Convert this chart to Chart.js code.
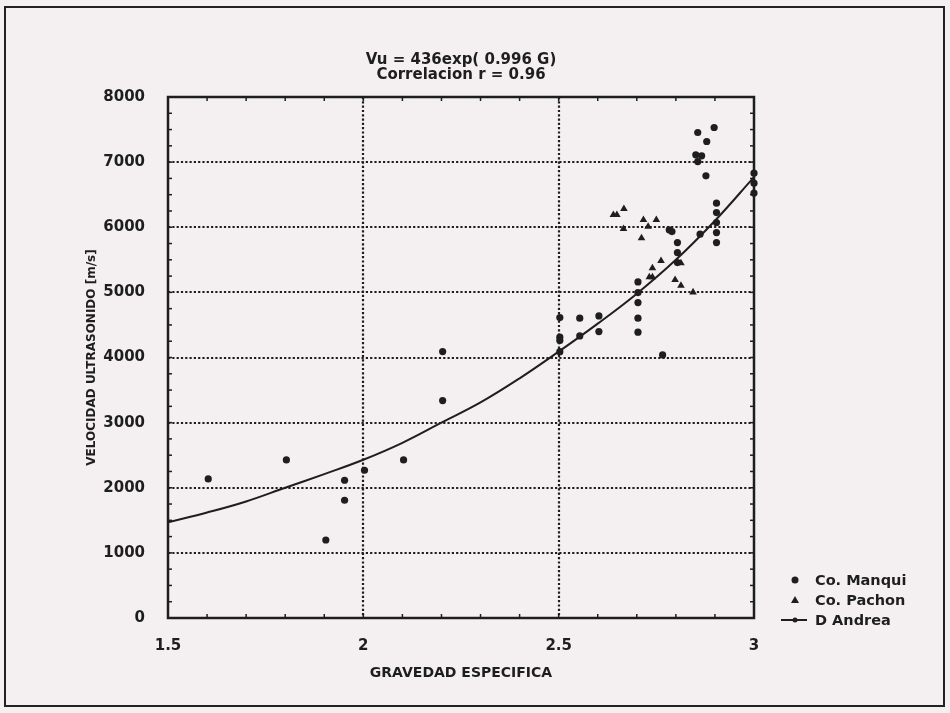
<!DOCTYPE html>
<html>
<head>
<meta charset="utf-8">
<script src="https://cdn.jsdelivr.net/npm/chart.js@4.4.1/dist/chart.umd.min.js"></script>
<style>
    html, body { margin: 0; padding: 0; background: #f4f0f1; }
    #wrap { position: relative; width: 950px; height: 713px; overflow: hidden; }
    #frame { position: absolute; left: 4px; top: 6px; width: 941px; height: 701px; border: 2px solid #222; box-sizing: border-box; }
    #grafico { position: absolute; left: 0; top: 0; }
    .txt { position: absolute; font-family: "DejaVu Sans", sans-serif; font-weight: bold; color: #1e1e1e; white-space: nowrap; }
    #titulo { left: 311px; top: 52px; width: 300px; text-align: center; font-size: 15px; line-height: 15px; }
    .fila { position: absolute; left: 780px; height: 20px; font-size: 14.5px; line-height: 20px; }
    .fila span.lbl { position: absolute; left: 35px; top: 0; }
    .marca { position: absolute; left: 0; top: 0; width: 28px; height: 20px; }
</style>
</head>
<body>
<div id="wrap">
    <div id="frame"></div>
    <canvas id="grafico" width="950" height="713"></canvas>
    <div id="titulo" class="txt">Vu = 436exp( 0.996 G)<br>Correlacion r = 0.96</div>
    <div class="fila txt" style="top:570px"><canvas class="marca" width="28" height="20" data-tipo="circulo"></canvas><span class="lbl">Co. Manqui</span></div>
    <div class="fila txt" style="top:590px"><canvas class="marca" width="28" height="20" data-tipo="triangulo"></canvas><span class="lbl">Co. Pachon</span></div>
    <div class="fila txt" style="top:610px"><canvas class="marca" width="28" height="20" data-tipo="linea"></canvas><span class="lbl">D Andrea</span></div>
</div>
<script>
// Gravedad especifica vs velocidad de ultrasonido

const ink = '#1e1e1e';

// curva ajustada
const curvaG  = [1.5, 1.6, 1.7, 1.8, 1.9, 2.0, 2.1, 2.2, 2.3, 2.4, 2.5, 2.6, 2.7, 2.8, 2.9, 3.0];
const curvaVu = [1470, 1620, 1790, 2000, 2210, 2430, 2690, 3000, 3310, 3680, 4090, 4520, 4980, 5500, 6100, 6770];

// Co. Manqui (circulos)
const manquiG = [2.856, 2.898, 2.879, 2.851, 2.866, 2.856, 2.877, 2.904, 2.904, 2.904, 2.904, 2.904,
                 2.862, 2.783, 2.790, 2.804, 2.804, 2.804, 2.703, 2.703, 2.703, 2.703, 2.703, 2.766,
                 2.603, 2.603, 2.554, 2.554, 2.503, 2.503, 2.503, 2.503, 3.0, 3.0, 3.0,
                 1.603, 1.803, 1.904, 1.952, 1.952, 2.003, 2.103, 2.203, 2.203];
const manquiV = [7455, 7532, 7317, 7112, 7097, 7009, 6790, 6370, 6226, 6073, 5919, 5765,
                 5894, 5960, 5934, 5765, 5611, 5458, 5161, 4997, 4843, 4604, 4389, 4040,
                 4639, 4398, 4604, 4332, 4613, 4312, 4260, 4090, 6830, 6677, 6524,
                 2135, 2427, 1198, 2115, 1808, 2269, 2427, 3338, 4091];

// Co. Pachon (triangulos)
const pachonG = [2.640, 2.649, 2.667, 2.666, 2.717, 2.750, 2.729, 2.712, 2.762, 2.813, 2.740, 2.732,
                 2.740, 2.798, 2.813, 2.844];
const pachonV = [6190, 6190, 6283, 5975, 6114, 6114, 6011, 5833, 5484, 5449, 5372, 5234,
                 5234, 5192, 5105, 5003];

// ejes
const xTicks = [1.5, 2, 2.5, 3];
const yTicks = [0, 1000, 2000, 3000, 4000, 5000, 6000, 7000, 8000];
const gridG = [2, 2.5];
const gridV = [1000, 2000, 3000, 4000, 5000, 6000, 7000];
const minorG = 0.1;
const minorV = 250;

const toPoints = (xs, ys) => xs.map((x, i) => ({ x: x, y: ys[i] }));

// dotted grid, inward minor ticks and frame of the plot area
const marcoPlugin = {
    id: 'marco',
    beforeDatasetsDraw(chart) {
        const { ctx, chartArea: a, scales: { x, y } } = chart;
        const line = (x1, y1, x2, y2) => {
            ctx.beginPath(); ctx.moveTo(x1, y1); ctx.lineTo(x2, y2); ctx.stroke();
        };
        ctx.save();
        ctx.strokeStyle = ink;

        ctx.lineWidth = 2.2;
        ctx.setLineDash([2.2, 2.1]);
        gridV.forEach(v => {
            const py = Math.round(y.getPixelForValue(v));
            line(a.left, py, a.right, py);
        });
        gridG.forEach(g => {
            const px = Math.round(x.getPixelForValue(g));
            line(px, a.top, px, a.bottom);
        });
        ctx.setLineDash([]);

        ctx.lineWidth = 1.5;
        const tl = 4;
        for (let i = 0; i <= Math.round((x.max - x.min) / minorG); i++) {
            const px = x.getPixelForValue(x.min + i * minorG);
            line(px, a.bottom, px, a.bottom - tl);
            line(px, a.top, px, a.top + tl);
        }
        for (let i = 0; i <= Math.round((y.max - y.min) / minorV); i++) {
            const py = y.getPixelForValue(y.min + i * minorV);
            line(a.left, py, a.left + tl, py);
            line(a.right, py, a.right - tl, py);
        }

        ctx.lineWidth = 2.5;
        ctx.strokeRect(a.left, a.top, a.right - a.left, a.bottom - a.top);
        ctx.restore();
    }
};

const tickFont = { family: 'DejaVu Sans', weight: 'bold', size: 15 };

new Chart(document.getElementById('grafico'), {
    type: 'scatter',
    data: {
        datasets: [
            {
                label: 'Co. Manqui',
                data: toPoints(manquiG, manquiV),
                pointStyle: 'circle',
                pointRadius: 3.6,
                backgroundColor: ink,
                borderColor: ink,
                borderWidth: 0,
                clip: false
            },
            {
                label: 'Co. Pachon',
                data: toPoints(pachonG, pachonV),
                pointStyle: 'triangle',
                pointRadius: 4.4,
                backgroundColor: ink,
                borderColor: ink,
                borderWidth: 0,
                clip: false
            },
            {
                label: 'D Andrea',
                type: 'line',
                data: toPoints(curvaG, curvaVu),
                borderColor: ink,
                borderWidth: 2,
                pointRadius: 0,
                tension: 0.4,
                fill: false
            }
        ]
    },
    options: {
        responsive: false,
        devicePixelRatio: 1,
        animation: false,
        layout: { padding: { top: 97, right: 196, left: 0, bottom: 0 } },
        plugins: {
            legend: { display: false },
            tooltip: { enabled: false }
        },
        scales: {
            x: {
                type: 'linear',
                min: 1.5,
                max: 3,
                afterBuildTicks: s => { s.ticks = xTicks.map(v => ({ value: v })); },
                afterFit: s => { s.height = 95; },
                grid: { display: false },
                border: { display: false },
                ticks: { color: ink, font: tickFont, padding: 11, callback: v => String(v), maxRotation: 0 },
                title: {
                    display: true,
                    text: 'GRAVEDAD ESPECIFICA',
                    color: ink,
                    font: { family: 'DejaVu Sans', weight: 'bold', size: 14 },
                    padding: { top: 4, bottom: 31 }
                }
            },
            y: {
                type: 'linear',
                min: 0,
                max: 8000,
                afterBuildTicks: s => { s.ticks = yTicks.map(v => ({ value: v })); },
                afterFit: s => { s.width = 168; },
                grid: { display: false },
                border: { display: false },
                ticks: { color: ink, font: tickFont, padding: 15, callback: v => String(v) },
                title: {
                    display: true,
                    text: 'VELOCIDAD ULTRASONIDO [m/s]',
                    color: ink,
                    font: { family: 'DejaVu Sans', weight: 'bold', size: 12 },
                    padding: { top: 85, bottom: 4 }
                }
            }
        }
    },
    plugins: [marcoPlugin]
});

// legend symbols
document.querySelectorAll('.marca').forEach(c => {
    const ctx = c.getContext('2d');
    ctx.fillStyle = ink;
    ctx.strokeStyle = ink;
    const tipo = c.dataset.tipo;
    if (tipo === 'circulo') {
        ctx.beginPath(); ctx.arc(15, 10, 3.5, 0, Math.PI * 2); ctx.fill();
    } else if (tipo === 'triangulo') {
        ctx.beginPath(); ctx.moveTo(15, 6); ctx.lineTo(19, 13); ctx.lineTo(11, 13); ctx.closePath(); ctx.fill();
    } else {
        ctx.lineWidth = 2;
        ctx.beginPath(); ctx.moveTo(1, 10); ctx.lineTo(27, 10); ctx.stroke();
        ctx.beginPath(); ctx.arc(15, 10, 2.5, 0, Math.PI * 2); ctx.fill();
    }
});
</script>
</body>
</html>
